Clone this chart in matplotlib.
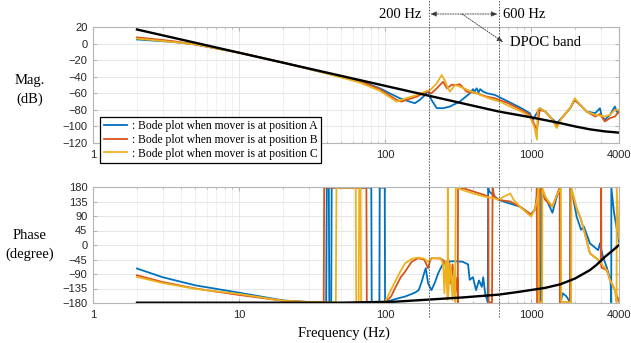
import matplotlib
matplotlib.use('Agg')
import matplotlib.pyplot as plt
from matplotlib.lines import Line2D
from matplotlib import transforms
from matplotlib.ticker import NullFormatter

plt.rcParams['font.family'] = ['Liberation Sans', 'DejaVu Sans']
serif = ['Liberation Serif', 'DejaVu Serif']

## data
# magnitude (dB)
f_mag_black = [2, 10, 100, 600, 1000, 1585, 2000, 2527, 3200, 4000]
mag_black = [17, -11, -51, -82, -89, -96, -100, -103.5, -106, -107.5]

f_mag_a = [2, 3.5, 5, 10, 20, 36, 67, 92, 126, 147, 160, 173, 188, 197, 208, 226, 250, 278, 325, 381,
           400, 410, 424, 437, 448, 470, 500, 565, 698, 858, 980, 1030, 1060, 1145, 1250, 1375, 1500,
           1620, 1850, 1990, 2170, 2400, 2750, 2960, 3050, 3200, 3470, 3750, 3850, 4000]
mag_a = [5, 2, -1, -11, -23, -34, -45, -54, -66, -70, -72, -68, -62, -57, -68, -78, -78, -76, -70, -60,
         -55, -58, -54, -59, -55, -58, -60, -62, -70, -78, -84, -92, -88, -78, -82, -90, -96,
         -90, -78, -68, -74, -82, -84, -78, -88, -92, -86, -76, -82, -84]

f_mag_b = [2, 3.5, 5, 10, 20, 36, 67, 92, 120, 130, 140, 165, 192, 208, 226, 250, 265, 285, 308, 325,
           362, 424, 494, 565, 698, 858, 980, 1097, 1145, 1250, 1375, 1500, 1620, 1850, 1990, 2170,
           2400, 2750, 2960, 3200, 3470, 3750, 4000]
mag_b = [7.5, 3, -1, -11, -23, -34, -45, -55, -68, -70, -68, -64, -58, -60, -54, -46, -54, -50, -50, -49,
         -58, -60, -64, -66, -72, -80, -86, -104, -80, -82, -90, -100, -90, -78, -68, -74,
         -82, -88, -85, -94, -90, -88, -82]

f_mag_c = [2, 3.5, 5, 10, 20, 36, 67, 92, 120, 140, 165, 188, 204, 226, 244, 256, 270, 278, 302, 325,
           381, 448, 552, 613, 698, 858, 980, 1050, 1097, 1110, 1145, 1250, 1375, 1500, 1620, 1850,
           1990, 2170, 2400, 2750, 3200, 3470, 3750, 4000]
mag_c = [6, 2, -1, -11, -23, -34, -47, -57, -70, -66, -62, -58, -56, -48, -38, -44, -54, -58, -50, -52,
         -57, -62, -68, -70, -75, -82, -88, -100, -116, -80, -78, -82, -90, -102, -90, -78,
         -66, -74, -82, -86, -88, -86, -80, -80]

# phase (degree)
f_ph_black = [2, 50, 117, 334, 600, 837, 1250, 1585, 2000, 2527, 2800, 3220, 3600, 4000]
ph_black = [-179, -179, -176, -163, -154, -145, -133, -122, -104, -78, -62, -36, -18, 0]

f_ph_a = [2, 3, 5, 10, 20, 30, 39.5, 39.9, 41.2, 41.5, 42.8, 43.1, 80.5, 81, 91.5, 92, 99.5, 100,
          117, 137, 160, 170, 178, 185, 190, 197, 208, 220, 231, 250, 265, 300, 340, 370, 380,
          400, 420, 440, 460, 470, 485, 505, 508, 520, 600, 700, 840, 1000, 1065, 1120, 1135,
          1140, 1170, 1175, 1250, 1400, 1500, 1580, 1590, 1650, 1750, 1850, 1860, 1900, 2050,
          2200, 2300, 2530, 2880, 2960, 3100, 3300, 3500, 3540, 3545, 3700, 4000]
ph_a = [-73, -100, -125, -148, -172, -177, -178, 178, 178, -178, -178, 178, 178, -178, -178, 178, 178, -178,
        -168, -160, -148, -140, -115, -88, -72, -119, -140, -115, -88, -57, -52, -50, -52, -60, -108,
        -100, -140, -110, -130, -100, -150, -178, 178, 165, 140, 130, 119, 93, 112, 150, 175,
        -178, -178, 178, 150, 100, 150, 178, -178, -150, -160, -178, 178, 170, 88,
        47, 57, 5, -16, 5, -35, -70, -110, -178, 178, 100, 10]

f_ph_b = [2, 3, 5, 10, 20, 30, 38, 38.3, 74.5, 75, 100, 110, 117, 128, 137, 152, 168, 185, 192, 197,
          203, 208, 240, 255, 265, 272, 280, 290, 300, 312, 315, 316, 350, 480, 510, 512, 540, 545,
          560, 600, 720, 840, 1000, 1065, 1090, 1095, 1098, 1140, 1145, 1250, 1400, 1500, 1570,
          1575, 1850, 1860, 2050, 2200, 2350, 2530, 2880, 3000, 3020, 3030, 3300, 3470, 3750, 4000]
ph_b = [-94, -115, -135, -155, -173, -177, -178, 178, 178, -178, -178, -160, -134, -100, -83, -52, -41, -45, -60, -72,
        -50, -41, -42, -50, -80, -45, -120, -60, -160, -100, -178, 178, 175, 155, 150, -178, -178, 178,
        150, 140, 135, 119, 95, 110, 150, 178, -178, -178, 178, 140, 119, 155, 178,
        -178, -178, 178, 114, 78, 31, -26, -46, -60, 178, -70, -78, -108, -140, -175]

f_ph_c = [2, 3, 5, 10, 20, 30, 46, 46.5, 63, 63.5, 66, 66.5, 68, 68.5, 100, 117, 128, 137, 152, 168,
          185, 197, 208, 240, 250, 255, 260, 268, 269, 270, 280, 290, 295, 302, 305, 400, 480, 560,
          600, 650, 720, 760, 840, 1000, 1065, 1110, 1125, 1130, 1190, 1195, 1250, 1400, 1500, 1600,
          1610, 1880, 1890, 2050, 2200, 2350, 2530, 2880, 3300, 3470, 3750, 3850, 3860, 4000]
ph_c = [-99, -118, -136, -152, -173, -177, -178, 178, 178, -178, -178, 178, 178, -178, -177, -114, -80, -57, -43, -39,
        -42, -52, -41, -41, -60, -150, -50, -170, 178, -160, -60, -170, -80, -175, 178, 160, 150, 145,
        140, 150, 160, 140, 119, 88, 112, 150, 178, -178, -178, 178, 150, 119, 155, 178,
        -178, -178, 178, 114, 78, 31, -26, -46, -78, -108, -140, -178, 178, 20]

labels = [': Bode plot when mover is at position A',
          ': Bode plot when mover is at position B',
          ': Bode plot when mover is at position C']
colors = ['#0072BD', '#D95319', '#EDB120']
xticks = [1, 10, 100, 1000, 4000]
mag_ticks = list(range(-120, 21, 20))
ph_ticks = list(range(-180, 181, 45))

W, H = 631, 343
fig = plt.figure(figsize=(W / 100, H / 100), dpi=100)
ax1 = fig.add_axes([93 / W, 1 - 143 / H, 526 / W, 116 / H])
ax2 = fig.add_axes([93 / W, 1 - 303 / H, 526 / W, 116 / H])

for ax in (ax1, ax2):
    ax.set_xscale('log')
    ax.set_xlim(1, 4000)
    ax.set_xticks(xticks)
    ax.xaxis.set_minor_formatter(NullFormatter())
    ax.grid(True, which='major', color='#e3e3e3', lw=0.6)
    ax.grid(True, which='minor', axis='x', color='#ececec', lw=0.5)
    ax.set_axisbelow(True)
    for s in ax.spines.values():
        s.set_color('#b5b5b5')
        s.set_linewidth(0.8)
    ax.tick_params(which='both', direction='in', top=True, right=True, colors='#b5b5b5',
                   labelcolor='#262626', labelsize=8, pad=4)
    ax.tick_params(which='major', length=3)
    ax.tick_params(which='minor', length=1.5)
    ax.tick_params(axis='x', pad=5)

# the "10" label of the upper plot sits behind the legend
ax1.set_xticklabels(['1', '', '100', '1000', '4000'])
ax2.set_xticklabels([str(t) for t in xticks])

lw = 1.3
ax1.plot(f_mag_a, mag_a, color=colors[0], lw=lw, label=labels[0])
ax1.plot(f_mag_b, mag_b, color=colors[1], lw=lw, label=labels[1])
ax1.plot(f_mag_c, mag_c, color=colors[2], lw=lw, label=labels[2])
ax1.plot(f_mag_black, mag_black, color='black', lw=1.7)
ax1.set_ylim(-120, 20)
ax1.set_yticks(mag_ticks)

ax2.plot(f_ph_a, ph_a, color=colors[0], lw=lw)
ax2.plot(f_ph_b, ph_b, color=colors[1], lw=lw)
ax2.plot(f_ph_c, ph_c, color=colors[2], lw=lw)
ax2.plot(f_ph_black, ph_black, color='black', lw=1.7)
ax2.set_ylim(-180, 180)
ax2.set_yticks(ph_ticks)

leg = ax1.legend(loc='upper left', bbox_to_anchor=(100 / W, 1 - 117 / H),
                 bbox_transform=fig.transFigure, borderaxespad=0, fancybox=False,
                 edgecolor='black', framealpha=1, prop={'family': serif, 'size': 8.4},
                 handlelength=2.0, handletextpad=0.4, labelspacing=0.13, borderpad=0.3)
leg.get_frame().set_linewidth(0.9)
leg.set_zorder(10)

# axis labels
fig.text(30 / W, 1 - 90 / H, 'Mag.\n(dB)', ha='center', va='center', family=serif,
         fontsize=10.5, linespacing=1.5)
fig.text(30 / W, 1 - 245 / H, 'Phase\n(degree)', ha='center', va='center', family=serif,
         fontsize=10.5, linespacing=1.5)
fig.text(344 / W, 1 - 333 / H, 'Frequency (Hz)', ha='center', va='center', family=serif,
         fontsize=10.5)

# DPOC band markers
trans = transforms.blended_transform_factory(ax1.transData, fig.transFigure)
for fb in (200, 600):
    fig.add_artist(Line2D([fb, fb], [1 - 317 / H, 1.0], transform=trans, color='#555555',
                          lw=0.7, ls=(0, (1.5, 1.5))))

y_arr = 1 - 14 / H
ax1.annotate('', xy=(200, y_arr), xytext=(600, y_arr), xycoords=trans, textcoords=trans,
             annotation_clip=False,
             arrowprops=dict(arrowstyle='<|-|>,head_length=0.35,head_width=0.15', color='#333333',
                             lw=0.6, ls=(0, (1.5, 1.5)), shrinkA=1, shrinkB=1))
ax1.annotate('', xy=(503 / W, 1 - 42 / H), xytext=(462 / W, y_arr), xycoords='figure fraction',
             annotation_clip=False,
             arrowprops=dict(arrowstyle='-|>,head_length=0.35,head_width=0.15', color='#333333',
                             lw=0.6, ls=(0, (1.5, 1.5)), shrinkA=0, shrinkB=0))
fig.text(400 / W, y_arr, '200 Hz', ha='center', va='center', family=serif, fontsize=10.5)
fig.text(524 / W, y_arr, '600 Hz', ha='center', va='center', family=serif, fontsize=10.5)
fig.text(510 / W, 1 - 43 / H, 'DPOC band', ha='left', va='center', family=serif, fontsize=10.5)

fig.savefig('out.png', dpi=100)
